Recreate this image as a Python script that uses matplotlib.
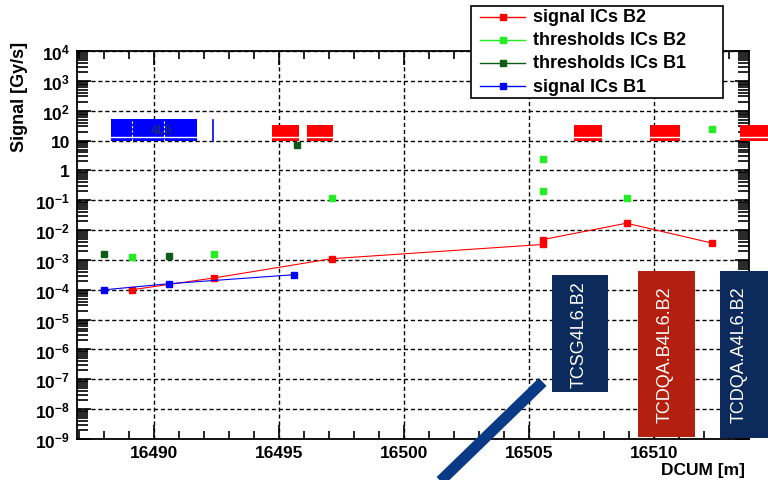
import matplotlib
matplotlib.use("Agg")
import matplotlib.pyplot as plt
import numpy as np
from matplotlib.lines import Line2D
from matplotlib.patches import Rectangle
from matplotlib.ticker import FixedLocator, FuncFormatter, LogLocator, MultipleLocator, NullFormatter

plt.rcParams["font.family"] = ["Liberation Sans", "DejaVu Sans"]
plt.rcParams["font.weight"] = "bold"
plt.rcParams["mathtext.fontset"] = "custom"
plt.rcParams["mathtext.rm"] = "Liberation Sans:bold"
plt.rcParams["mathtext.it"] = "Liberation Sans:bold"
plt.rcParams["mathtext.bf"] = "Liberation Sans:bold"

# monitor readings along DCUM [m]
sig_b2_x = [16489.1, 16492.4, 16497.1, 16505.55, 16505.55, 16508.9, 16512.3]
sig_b2_y = [1.0e-4, 2.5e-4, 1.1e-3, 3.3e-3, 4.8e-3, 1.7e-2, 3.7e-3]

sig_b1_x = [16488.0, 16490.6, 16495.6]
sig_b1_y = [1.0e-4, 1.6e-4, 3.2e-4]

thr_b2_x = [16489.1, 16492.4, 16497.1, 16505.55, 16505.55, 16508.9, 16512.3]
thr_b2_y = [1.3e-3, 1.6e-3, 0.12, 2.4, 0.2, 0.12, 24.0]

thr_b1_x = [16488.0, 16490.6, 16495.7]
thr_b1_y = [1.6e-3, 1.4e-3, 7.0]

# machine element strips drawn near the top
element_x0 = [16494.7, 16496.1, 16506.8, 16509.85, 16513.45]
element_x1 = [16495.8, 16497.15, 16507.9, 16511.05, 16515.3]
blue_elem = (16488.25, 16491.7)
blue_marker_x = 16492.35

# collimator tags
tag_names = ["TCSG4L6.B2", "TCDQA.B4L6.B2", "TCDQA.A4L6.B2"]
tag_x0 = [16505.9, 16509.35, 16512.65]
tag_x1 = [16508.15, 16511.65, 16515.3]
tag_ylo = [3.8e-8, 1.2e-9, 1.1e-9]
tag_yhi = [3.2e-4, 4.4e-4, 4.4e-4]
tag_textx = [16507.0, 16510.45, 16513.4]
tag_colors = ["#0d2a5c", "#b3200f", "#0d2a5c"]

RED = "#ff0000"
LGREEN = "#22ee22"
DGREEN = "#0e5c17"
BLUE = "#0000ff"

W, H = 768, 481
fig = plt.figure(figsize=(W / 100, H / 100), dpi=100)
ax = fig.add_axes([77 / W, 1 - 440 / H, 672 / W, 388 / H])

ax.set_yscale("log")
ax.set_xlim(16486.9, 16513.8)
ax.set_ylim(1e-9, 1e4)

ax.plot(sig_b2_x, sig_b2_y, color=RED, lw=0.8, marker="s", ms=5, mec=RED, zorder=5)
ax.plot(sig_b1_x, sig_b1_y, color=BLUE, lw=0.8, marker="s", ms=5, mec=BLUE, zorder=5)
ax.plot(thr_b2_x, thr_b2_y, ls="none", marker="s", ms=5, color=LGREEN, mec=LGREEN, zorder=5)
ax.plot(thr_b1_x, thr_b1_y, ls="none", marker="s", ms=5, color=DGREEN, mec=DGREEN, zorder=5)

# element strips
for x0, x1 in zip(element_x0, element_x1):
    ax.add_patch(Rectangle((x0, 10), x1 - x0, 24, color=RED, lw=0, zorder=3, clip_on=False))
    ax.plot([x0, x1], [13.5, 13.5], color="white", lw=1.0, zorder=4, clip_on=False)
bx0, bx1 = blue_elem
ax.add_patch(Rectangle((bx0, 10), bx1 - bx0, 42, color=BLUE, lw=0, zorder=3))
ax.plot([bx0, bx1], [13.5, 13.5], color="white", lw=1.0, zorder=4)
for xv in (16489.1, 16490.4):
    ax.plot([xv, xv], [10, 52], color="white", lw=0.8, ls=(0, (2, 2)), zorder=4)
ax.text(16490.3, 23, "4L6", color="#1a2a80", fontsize=9, ha="center", va="center", zorder=4)
ax.plot([blue_marker_x, blue_marker_x], [10, 50], color=BLUE, lw=1.2, zorder=3)

# axis ticks and grid
ax.xaxis.set_major_locator(MultipleLocator(5))
ax.xaxis.set_minor_locator(MultipleLocator(1))
ax.yaxis.set_major_locator(FixedLocator([10.0 ** k for k in range(-9, 5)]))
ax.yaxis.set_minor_locator(LogLocator(base=10, subs=np.arange(2, 10), numticks=20))
ax.yaxis.set_minor_formatter(NullFormatter())


def ylab(v, pos):
    k = int(round(np.log10(v)))
    if k == 0:
        return "1"
    if k == 1:
        return "10"
    return r"$10^{%d}$" % k


ax.yaxis.set_major_formatter(FuncFormatter(ylab))
ax.tick_params(which="both", direction="in", top=True, right=True, width=1.2, labelsize=12.5)
ax.tick_params(which="major", length=10)
ax.tick_params(axis="x", which="minor", length=6)
ax.tick_params(axis="y", which="minor", length=8)
ax.tick_params(axis="x", pad=4)
ax.tick_params(axis="y", pad=5)
ax.grid(True, which="major", color="black", lw=1.0, ls=(0, (3, 2)))
for s in ax.spines.values():
    s.set_linewidth(1.3)

fig.text(20 / W, 1 - 42 / H, "Signal [Gy/s]", rotation=90, ha="center", va="top", fontsize=13)
fig.text(745 / W, 1 - 471 / H, "DCUM [m]", ha="right", va="center", fontsize=12.5)

# legend box in pixel units
leg_colors = [RED, LGREEN, DGREEN, BLUE]
leg_labels = ["signal ICs B2", "thresholds ICs B2", "thresholds ICs B1", "signal ICs B1"]
leg_rows = [18, 41, 64, 87]
fig.patches.append(Rectangle((471 / W, 1 - 99 / H), 252 / W, 92 / H, transform=fig.transFigure,
                             facecolor="white", edgecolor="black", lw=1.2, zorder=10))
for c, lab, yy in zip(leg_colors, leg_labels, leg_rows):
    fy = 1 - yy / H
    fig.lines.append(Line2D([480 / W, 525 / W], [fy, fy], transform=fig.transFigure,
                            color=c, lw=1.0, zorder=11))
    fig.lines.append(Line2D([503 / W], [fy], transform=fig.transFigure, color=c,
                            marker="s", ms=5, ls="none", zorder=11))
    fig.text(533 / W, fy, lab, ha="left", va="center", fontsize=13, zorder=12)

# collimator tags
for name, x0, x1, lo, hi, tx, c in zip(tag_names, tag_x0, tag_x1, tag_ylo, tag_yhi,
                                       tag_textx, tag_colors):
    ax.add_patch(Rectangle((x0, lo), x1 - x0, hi - lo, color=c, lw=0, zorder=8, clip_on=False))
    ax.text(tx, np.sqrt(lo * hi), name, rotation=90, color="white", fontsize=13,
            fontweight="normal", ha="center", va="center", zorder=9, clip_on=False)

# pointer towards the first collimator
ax.plot([0.693, 0.51], [0.147, -0.16], transform=ax.transAxes, color="#0a3a86",
        lw=8, solid_capstyle="butt", clip_on=False, zorder=8)

fig.savefig("out.png", dpi=100)
